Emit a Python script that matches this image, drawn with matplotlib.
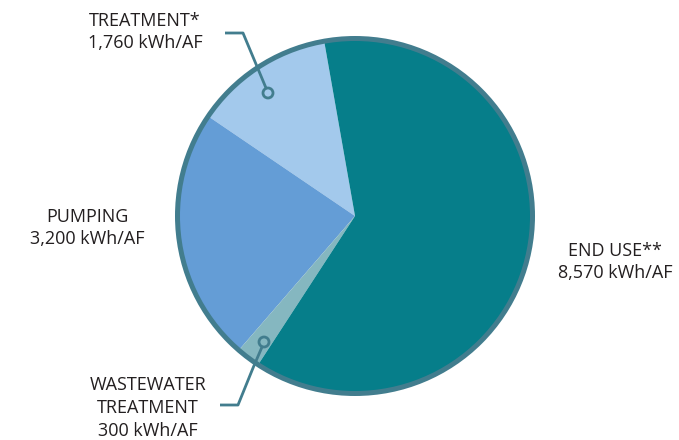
import matplotlib.pyplot as plt
from matplotlib.patches import Circle

plt.rcParams['font.family'] = ['Open Sans', 'DejaVu Sans']

categories = ["TREATMENT*", "PUMPING", "WASTEWATER\nTREATMENT", "END USE**"]
values = [1760, 3200, 300, 8570]
colors = ["#a3c9ec", "#649dd6", "#85b7c0", "#067e8a"]
ring = "#427d8e"
txt = "#231f20"

W, H = 679, 440
fig = plt.figure(figsize=(W / 100, H / 100), dpi=100)
ax = fig.add_axes([0, 0, 1, 1])
ax.set_xlim(0, W)
ax.set_ylim(0, H)
ax.set_aspect('equal')
ax.axis('off')

cx, cy, r = 355, H - 216, 177.5
ax.pie(values, colors=colors, startangle=100, counterclock=True,
       center=(cx, cy), radius=r, wedgeprops=dict(linewidth=0))
ax.add_patch(Circle((cx, cy), r, fill=False, ec=ring, lw=3.6, zorder=5))
ax.set_xlim(0, W)
ax.set_ylim(0, H)


def lbl(x, y, s):
    ax.text(x, H - y, s, ha='center', va='center', fontsize=13, color=txt,
            linespacing=1.35)


lbl(145, 32, "TREATMENT*\n1,760 kWh/AF")
lbl(87, 228, "PUMPING\n3,200 kWh/AF")
lbl(615, 262, "END USE**\n8,570 kWh/AF")
lbl(148, 408, "WASTEWATER\nTREATMENT\n300 kWh/AF")

# leader lines
ax.plot([225, 243, 266], [H - 33, H - 33, H - 88], color=ring, lw=2, zorder=6,
        solid_capstyle='butt')
ax.add_patch(Circle((268, H - 93), 5, fill=False, ec=ring, lw=2, zorder=6))
ax.plot([262, 253, 238, 220], [H - 347, H - 368, H - 405, H - 405], color=ring,
        lw=2, zorder=6, solid_capstyle='butt')
ax.add_patch(Circle((264, H - 342), 5, fill=False, ec=ring, lw=2, zorder=6))

fig.savefig("out.png", dpi=100)
plt.close(fig)
